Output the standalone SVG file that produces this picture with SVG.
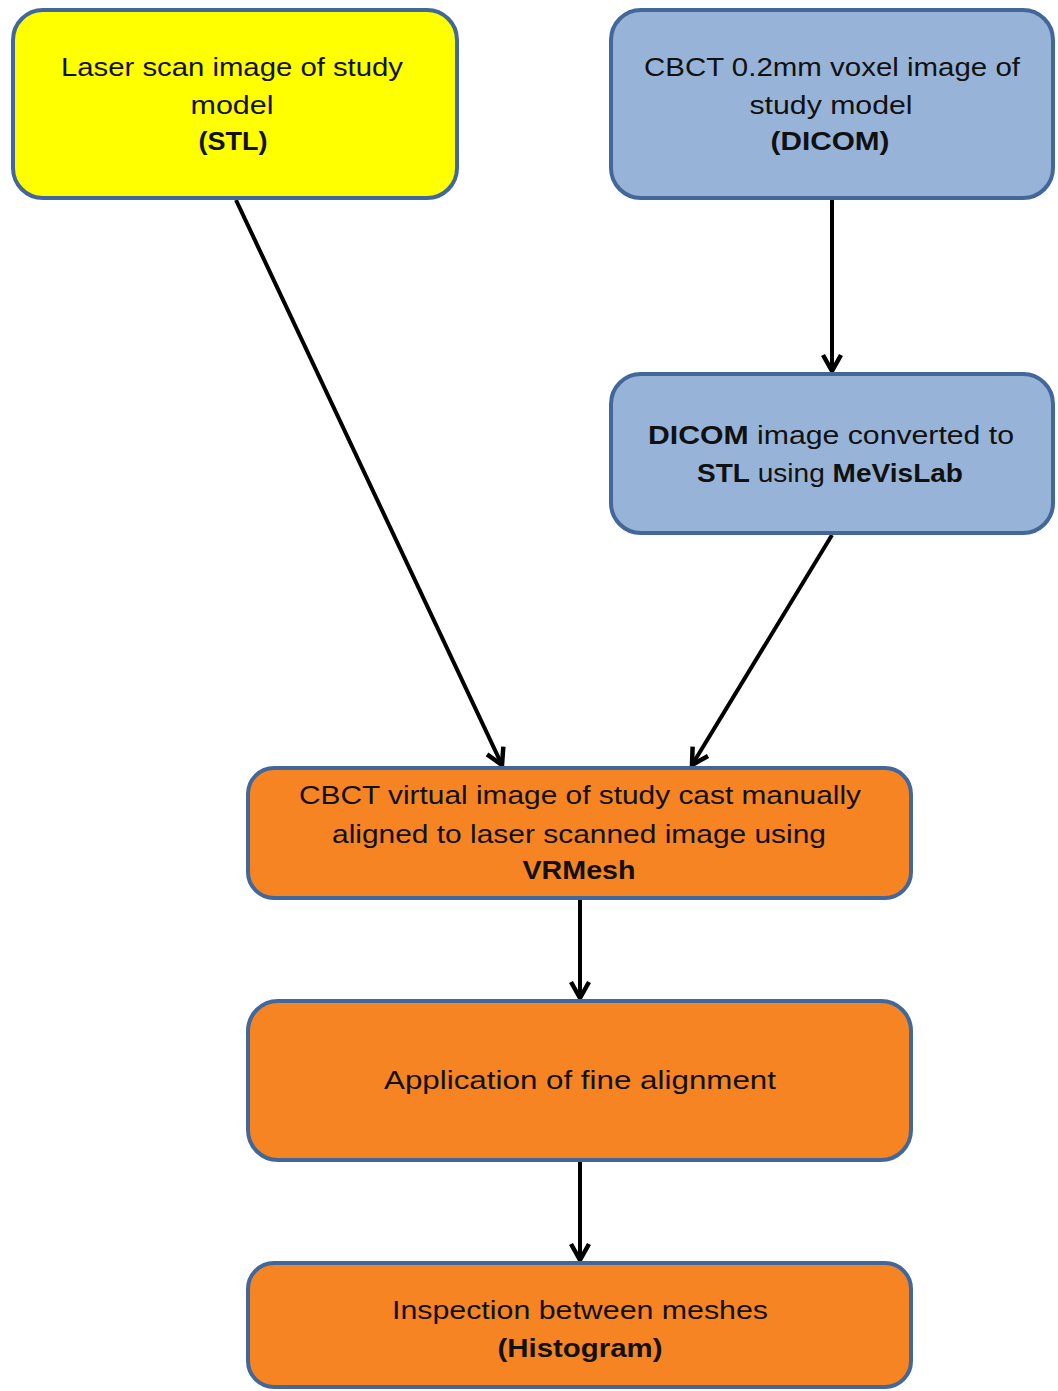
<svg xmlns="http://www.w3.org/2000/svg" width="1058" height="1391" viewBox="0 0 1058 1391">
  <defs>
    <marker id="arrow" viewBox="0 0 24 24" refX="20" refY="12" markerWidth="24" markerHeight="24" markerUnits="userSpaceOnUse" orient="auto">
      <path d="M4,3 L20,12 L4,21" fill="none" stroke="#000" stroke-width="4.5" stroke-linejoin="miter"/>
    </marker>
    <style>
      .box { stroke: #41679b; stroke-width: 4; }
      .yellow { fill: #ffff00; }
      .blue { fill: #97b4d8; }
      .orange { fill: #f68423; }
      .lbl { font-family: "Liberation Sans", Arial, sans-serif; font-size: 26px; fill: #111; text-anchor: middle; }
      .b { font-weight: bold; }
      .edge { fill: none; stroke: #000; stroke-width: 4; marker-end: url(#arrow); }
    </style>
  </defs>

  <g id="connectors">
    <line class="edge" x1="236" y1="200" x2="502" y2="765"/>
    <line class="edge" x1="832" y1="200" x2="832" y2="371"/>
    <line class="edge" x1="832" y1="535" x2="692" y2="765"/>
    <line class="edge" x1="580" y1="900" x2="580" y2="998"/>
    <line class="edge" x1="580" y1="1162" x2="580" y2="1260"/>
  </g>

  <g id="laser-scan">
    <rect class="box yellow" x="13" y="10" width="444" height="188" rx="30"/>
    <text class="lbl" x="232" y="76" textLength="342" lengthAdjust="spacingAndGlyphs">Laser scan image of study</text>
    <text class="lbl" x="232" y="114" textLength="83" lengthAdjust="spacingAndGlyphs">model</text>
    <text class="lbl b" x="233" y="150" textLength="69" lengthAdjust="spacingAndGlyphs">(STL)</text>
  </g>

  <g id="cbct-dicom">
    <rect class="box blue" x="611" y="10" width="442" height="188" rx="30"/>
    <text class="lbl" x="832" y="76" textLength="376" lengthAdjust="spacingAndGlyphs">CBCT 0.2mm voxel image of</text>
    <text class="lbl" x="831" y="114" textLength="163" lengthAdjust="spacingAndGlyphs">study model</text>
    <text class="lbl b" x="830" y="150" textLength="119" lengthAdjust="spacingAndGlyphs">(DICOM)</text>
  </g>

  <g id="dicom-to-stl">
    <rect class="box blue" x="611" y="374" width="442" height="159" rx="30"/>
    <text class="lbl" x="831" y="444" textLength="366" lengthAdjust="spacingAndGlyphs"><tspan class="b">DICOM</tspan> image converted to</text>
    <text class="lbl" x="830" y="482" textLength="266" lengthAdjust="spacingAndGlyphs"><tspan class="b">STL</tspan> using <tspan class="b">MeVisLab</tspan></text>
  </g>

  <g id="manual-alignment">
    <rect class="box orange" x="248" y="768" width="663" height="130" rx="26"/>
    <text class="lbl" x="580" y="804" textLength="562" lengthAdjust="spacingAndGlyphs">CBCT virtual image of study cast manually</text>
    <text class="lbl" x="579" y="843" textLength="494" lengthAdjust="spacingAndGlyphs">aligned to laser scanned image using</text>
    <text class="lbl b" x="579" y="879" textLength="113" lengthAdjust="spacingAndGlyphs">VRMesh</text>
  </g>

  <g id="fine-alignment">
    <rect class="box orange" x="248" y="1001" width="663" height="159" rx="30"/>
    <text class="lbl" x="580" y="1089" textLength="392" lengthAdjust="spacingAndGlyphs">Application of fine alignment</text>
  </g>

  <g id="inspection">
    <rect class="box orange" x="248" y="1263" width="663" height="124" rx="26"/>
    <text class="lbl" x="580" y="1319" textLength="376" lengthAdjust="spacingAndGlyphs">Inspection between meshes</text>
    <text class="lbl b" x="580" y="1357" textLength="165" lengthAdjust="spacingAndGlyphs">(Histogram)</text>
  </g>
</svg>
